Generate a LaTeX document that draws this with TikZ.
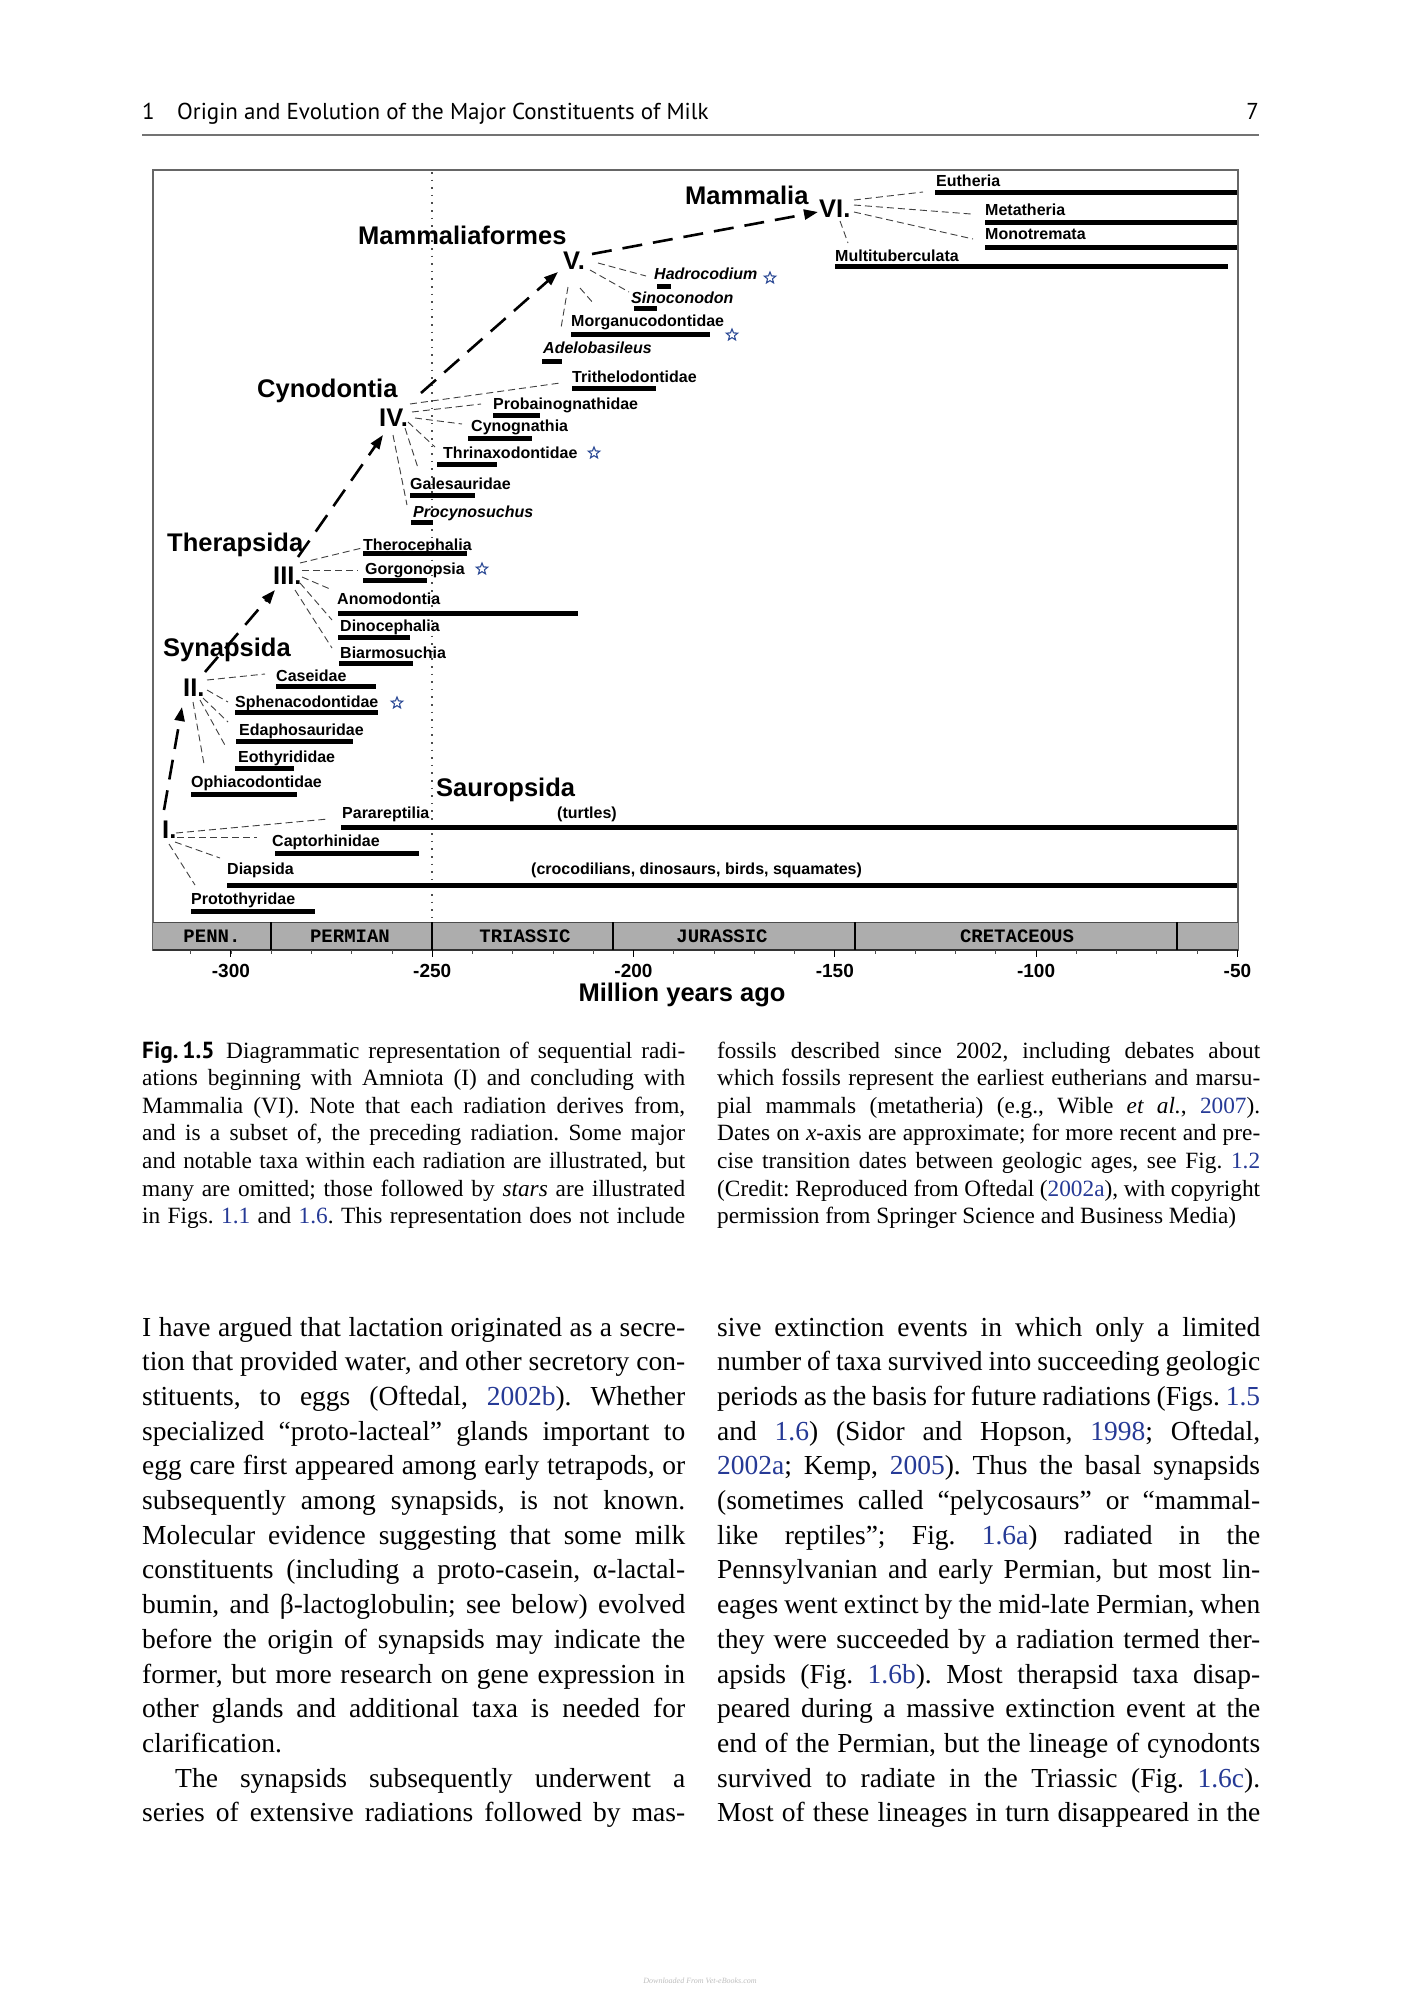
\documentclass[tikz,border=0pt]{standalone}
\usepackage{fontspec}
\setmainfont{Liberation Serif}
\newfontfamily\figsans{Liberation Sans}
\newfontfamily\hdsans{PT Sans}
\newfontfamily\permono{Liberation Mono}
\usetikzlibrary{arrows.meta,shapes.geometric}
\definecolor{linkblue}{RGB}{38,58,150}
\definecolor{starblue}{RGB}{45,75,150}
\newcommand\lk[1]{\textcolor{linkblue}{#1}}
% body lines
\newcommand\jline[4]{\node[bodytxt] (#1) at (#2,{1336+34.71*(#3-1)}) {\makebox[543pt][s]{#4}};}
\newcommand\rline[4]{\node[bodytxt] (#1) at (#2,{1336+34.71*(#3-1)}) {#4};}
\newcommand\capj[4]{\node[captxt] (#1) at (#2,{1058+27.63*(#3-1)}) {\makebox[543pt][s]{#4}};}
\newcommand\capr[4]{\node[captxt] (#1) at (#2,{1058+27.63*(#3-1)}) {#4};}
\newcommand\lnk[6]{\draw[link] ([shift={(#2,#3)}]#1.west) -- ([shift={(#5,#6)}]#4.west);}
\newcommand\tbar[3]{\draw[bar] (#1,#3) -- (#2,#3);}
\begin{document}
\frenchspacing
\begin{tikzpicture}[x=1pt,y=-1pt,
  bodytxt/.style={anchor=base west,inner sep=0pt,font=\frenchspacing\fontsize{27.5}{34.7}\selectfont},
  captxt/.style={anchor=base west,inner sep=0pt,font=\frenchspacing\fontsize{23.3}{27.6}\selectfont},
  hdtxt/.style={anchor=base west,inner sep=0pt,font=\hdsans\fontsize{23}{26}\selectfont},
  tax/.style={font=\figsans\bfseries\fontsize{16}{18}\selectfont,inner sep=0pt,anchor=west,text height=11.5pt,text depth=0pt},
  taxi/.style={tax,font=\figsans\bfseries\itshape\fontsize{16}{18}\selectfont},
  big/.style={font=\figsans\bfseries\fontsize{25.5}{28}\selectfont,inner sep=0pt,anchor=west,text height=18.3pt,text depth=0pt},
  bar/.style={line width=5pt,line cap=butt},
  link/.style={line width=0.9pt,dash pattern=on 7pt off 4pt,black!75},
  radarrow/.style={line width=2.6pt,dash pattern=on 20pt off 11pt,-{Triangle[length=14pt,width=10pt]}},
  stardeco/.style={star,star points=5,star point ratio=2.3,draw=starblue,line width=1.1pt,minimum size=12pt,inner sep=0pt},
  permlabel/.style={font=\permono\bfseries\fontsize{19}{22}\selectfont,inner sep=0pt,anchor=center},
  ticklabel/.style={font=\figsans\bfseries\fontsize{19}{21}\selectfont,inner sep=0pt,anchor=center}
]
\useasboundingbox (0,0) rectangle (1402,2000);
\fill[white] (0,0) rectangle (1402,2000);

% ---------- running head ----------
\node[hdtxt] (hnum) at (142,119) {1};
\node[hdtxt] (htitle) at (177,119) {Origin and Evolution of the Major Constituents of Milk};
\node[hdtxt,anchor=base east] (hpage) at (1259,119) {7};
\draw[black!55,line width=1.4pt] (142,135) -- (1259,135);

% ---------- figure frame & time bar ----------
\draw[black!60,line width=1.3pt] (153,170) rectangle (1238,950);
\fill[black!32] (153,922) rectangle (1238,950);
\draw[black!70,line width=1pt] (153,922) -- (1238,922);
\draw[black!80,line width=1.2pt] (153,950) -- (1238,950);
\foreach \xx in {271,432,613,855,1177} \draw[black,line width=1.2pt] (\xx,922) -- (\xx,950);
\draw[black!70,line width=1.3pt,dash pattern=on 1.6pt off 6pt] (432,172) -- (432,922);
\node[permlabel] (penn) at (212,936) {PENN.};
\node[permlabel] (perm) at (350,936) {PERMIAN};
\node[permlabel] (tria) at (525,936) {TRIASSIC};
\node[permlabel] (jura) at (722,936) {JURASSIC};
\node[permlabel] (cret) at (1017,936) {CRETACEOUS};
\foreach \t in {-310,-300,...,-60} \draw[black!70,line width=0.8pt] ({1237.4+(\t+50)*4.026},950) -- ++(0,4);
\foreach \t in {-300,-250,...,-50} {
  \draw[black,line width=1pt] ({1237.4+(\t+50)*4.026},950) -- ++(0,7);
  \node[ticklabel] (tk\t) at ({1237.4+(\t+50)*4.026},971) {\t};
}
\node[font=\figsans\bfseries\fontsize{25.5}{28}\selectfont,inner sep=0pt] (mya) at (682,995) {Million years ago};

% ---------- radiations ----------
\node[big] (mam) at (685,195) {Mammalia};
\node[big] (rVI) at (819,208) {VI.};
\node[big] (maf) at (358,235) {Mammaliaformes};
\node[big] (rV) at (563,260) {V.};
\node[big] (cyn) at (257,388) {Cynodontia};
\node[big] (rIV) at (379,417) {IV.};
\node[big] (thp) at (167,542) {Therapsida};
\node[big] (rIII) at (273,575) {III.};
\node[big] (syn) at (163,647) {Synapsida};
\node[big] (rII) at (183,687) {II.};
\node[big] (rI) at (162,829) {I.};
\node[big] (sau) at (436,787) {Sauropsida};

% ---------- taxa ----------
\node[tax] (eut) at (936,181) {Eutheria};
\node[tax] (met) at (985,210) {Metatheria};
\node[tax] (mon) at (985,234) {Monotremata};
\node[tax] (mul) at (835,256) {Multituberculata};
\node[taxi] (had) at (654,274) {Hadrocodium};
\node[taxi] (sin) at (631,298) {Sinoconodon};
\node[tax] (mor) at (571,321) {Morganucodontidae};
\node[taxi] (ade) at (543,348) {Adelobasileus};
\node[tax] (tri) at (572,377) {Trithelodontidae};
\node[tax] (pro) at (493,404) {Probainognathidae};
\node[tax] (cyg) at (471,426) {Cynognathia};
\node[tax] (thr) at (443,453) {Thrinaxodontidae};
\node[tax] (gal) at (410,484) {Galesauridae};
\node[taxi] (pcy) at (413,512) {Procynosuchus};
\node[tax] (the) at (363,545) {Therocephalia};
\node[tax] (gor) at (365,569) {Gorgonopsia};
\node[tax] (ano) at (337,599) {Anomodontia};
\node[tax] (din) at (340,626) {Dinocephalia};
\node[tax] (bia) at (340,653) {Biarmosuchia};
\node[tax] (cas) at (276,676) {Caseidae};
\node[tax] (sph) at (235,702) {Sphenacodontidae};
\node[tax] (eda) at (239,730) {Edaphosauridae};
\node[tax] (eot) at (238,757) {Eothyrididae};
\node[tax] (oph) at (191,782) {Ophiacodontidae};
\node[tax] (par) at (342,813) {Parareptilia};
\node[tax] (cap) at (272,841) {Captorhinidae};
\node[tax] (dia) at (227,869) {Diapsida};
\node[tax] (prt) at (191,899) {Protothyridae};
\node[tax] (turt) at (557,813) {(turtles)};
\node[tax] (croc) at (531,869) {(crocodilians, dinosaurs, birds, squamates)};

% stars
\node[stardeco] (s1) at (770,278) {};
\node[stardeco] (s2) at (732,335) {};
\node[stardeco] (s3) at (594,453) {};
\node[stardeco] (s4) at (482,569) {};
\node[stardeco] (s5) at (397,703) {};

% range bars
\tbar{935}{1237}{192}
\tbar{985}{1237}{222}
\tbar{985}{1237}{247}
\tbar{835}{1228}{266}
\tbar{657}{671}{286}
\tbar{634}{657}{308}
\tbar{571}{710}{334}
\tbar{542}{562}{361}
\tbar{572}{656}{388}
\tbar{493}{540}{415}
\tbar{468}{532}{438}
\tbar{437}{497}{464}
\tbar{410}{475}{495}
\tbar{411}{433}{522}
\tbar{363}{467}{553}
\tbar{363}{427}{580}
\tbar{338}{578}{613}
\tbar{338}{410}{637}
\tbar{339}{413}{663}
\tbar{276}{376}{686}
\tbar{235}{378}{712}
\tbar{236}{353}{741}
\tbar{235}{294}{768}
\tbar{191}{297}{794}
\tbar{341}{1237}{827}
\tbar{275}{419}{853}
\tbar{227}{1237}{885}
\tbar{191}{315}{911}

% radiation arrows
\draw[radarrow] ([shift={(2,-19)}]rI.west) -- ([shift={(-1,20)}]rII.west);
\draw[radarrow] ([shift={(22,-15)}]rII.west) -- ([shift={(2,15)}]rIII.west);
\draw[radarrow] ([shift={(25,-18)}]rIII.west) -- ([shift={(4,18)}]rIV.west);
\draw[radarrow] ([shift={(42,-24)}]rIV.west) -- ([shift={(-5,12)}]rV.west);
\draw[radarrow] ([shift={(29,-6)}]rV.west) -- ([shift={(-1,4)}]rVI.west);

% thin links
\lnk{rVI}{35}{-8}{eut}{-13}{11}
\lnk{rVI}{35}{-3}{met}{-14}{4}
\lnk{rVI}{35}{4}{mon}{-12}{5}
\lnk{rVI}{21}{13}{mul}{13}{-13}
\lnk{rV}{35}{3}{had}{-8}{2}
\lnk{rV}{27}{10}{sin}{-2}{-6}
\lnk{rV}{17}{28}{mor}{23}{-17}
\lnk{rV}{5}{27}{ade}{18}{-20}
\lnk{rIV}{31}{-13}{tri}{-12}{6}
\lnk{rIV}{33}{-5}{pro}{-12}{0}
\lnk{rIV}{36}{1}{cyg}{-9}{-2}
\lnk{rIV}{29}{5}{thr}{-8}{-6}
\lnk{rIV}{26}{11}{gal}{8}{-16}
\lnk{rIV}{14}{18}{pcy}{-6}{-7}
\lnk{rIII}{27}{-12}{the}{-1}{3}
\lnk{rIII}{29}{-5}{gor}{-7}{1}
\lnk{rIII}{29}{2}{ano}{-7}{-10}
\lnk{rIII}{27}{8}{din}{-8}{-6}
\lnk{rIII}{22}{15}{bia}{-8}{-5}
\lnk{rII}{24}{-7}{cas}{-11}{-2}
\lnk{rII}{24}{3}{sph}{-7}{0}
\lnk{rII}{20}{11}{eda}{-11}{-8}
\lnk{rII}{17}{13}{eot}{-12}{-10}
\lnk{rII}{10}{15}{oph}{13}{-18}
\lnk{rI}{14}{4}{par}{-14}{6}
\lnk{rI}{15}{8}{cap}{-15}{-4}
\lnk{rI}{13}{13}{dia}{-7}{-11}
\lnk{rI}{7}{15}{prt}{4}{-14}

% ---------- caption ----------
\capj{cl1}{142}{1}{{\hdsans\bfseries Fig.\,1.5}\enspace Diagrammatic representation of sequential radi-}
\capj{cl2}{142}{2}{ations beginning with Amniota (I) and concluding with}
\capj{cl3}{142}{3}{Mammalia (VI). Note that each radiation derives from,}
\capj{cl4}{142}{4}{and is a subset of, the preceding radiation. Some major}
\capj{cl5}{142}{5}{and notable taxa within each radiation are illustrated, but}
\capj{cl6}{142}{6}{many are omitted; those followed by \textit{stars} are illustrated}
\capj{cl7}{142}{7}{in Figs. \lk{1.1} and \lk{1.6}. This representation does not include}
\capj{cr1}{717}{1}{fossils described since 2002, including debates about}
\capj{cr2}{717}{2}{which fossils represent the earliest eutherians and marsu-}
\capj{cr3}{717}{3}{pial mammals (metatheria) (e.g., Wible \textit{et al.}, \lk{2007}).}
\capj{cr4}{717}{4}{Dates on \textit{x}-axis are approximate; for more recent and pre-}
\capj{cr5}{717}{5}{cise transition dates between geologic ages, see Fig. \lk{1.2}}
\capj{cr6}{717}{6}{(Credit: Reproduced from Oftedal (\lk{2002a}), with copyright}
\capr{cr7}{717}{7}{permission from Springer Science and Business Media)}

% ---------- body text ----------
\jline{bl1}{142}{1}{I have argued that lactation originated as a secre-}
\jline{bl2}{142}{2}{tion that provided water, and other secretory con-}
\jline{bl3}{142}{3}{stituents, to eggs (Oftedal, \lk{2002b}). Whether}
\jline{bl4}{142}{4}{specialized “proto-lacteal” glands important to}
\jline{bl5}{142}{5}{egg care first appeared among early tetrapods, or}
\jline{bl6}{142}{6}{subsequently among synapsids, is not known.}
\jline{bl7}{142}{7}{Molecular evidence suggesting that some milk}
\jline{bl8}{142}{8}{constituents (including a proto-casein, α-lactal-}
\jline{bl9}{142}{9}{bumin, and β-lactoglobulin; see below) evolved}
\jline{bl10}{142}{10}{before the origin of synapsids may indicate the}
\jline{bl11}{142}{11}{former, but more research on gene expression in}
\jline{bl12}{142}{12}{other glands and additional taxa is needed for}
\rline{bl13}{142}{13}{clarification.}
\node[bodytxt] (bl14) at (175,{1336+34.71*13}) {\makebox[510pt][s]{The synapsids subsequently underwent a}};
\jline{bl15}{142}{15}{series of extensive radiations followed by mas-}

\jline{br1}{717}{1}{sive extinction events in which only a limited}
\jline{br2}{717}{2}{number of taxa survived into succeeding geologic}
\jline{br3}{717}{3}{periods as the basis for future radiations (Figs. \lk{1.5}}
\jline{br4}{717}{4}{and \lk{1.6}) (Sidor and Hopson, \lk{1998}; Oftedal,}
\jline{br5}{717}{5}{\lk{2002a}; Kemp, \lk{2005}). Thus the basal synapsids}
\jline{br6}{717}{6}{(sometimes called “pelycosaurs” or “mammal-}
\jline{br7}{717}{7}{like reptiles”; Fig. \lk{1.6a}) radiated in the}
\jline{br8}{717}{8}{Pennsylvanian and early Permian, but most lin-}
\jline{br9}{717}{9}{eages went extinct by the mid-late Permian, when}
\jline{br10}{717}{10}{they were succeeded by a radiation termed ther-}
\jline{br11}{717}{11}{apsids (Fig. \lk{1.6b}). Most therapsid taxa disap-}
\jline{br12}{717}{12}{peared during a massive extinction event at the}
\jline{br13}{717}{13}{end of the Permian, but the lineage of cynodonts}
\jline{br14}{717}{14}{survived to radiate in the Triassic (Fig. \lk{1.6c}).}
\jline{br15}{717}{15}{Most of these lineages in turn disappeared in the}

% ---------- footer ----------
\node[font=\itshape\fontsize{8}{9}\selectfont,text=black!25,inner sep=0pt] (foot) at (700,1981) {Downloaded From Vet-eBooks.com};
\end{tikzpicture}
\end{document}
